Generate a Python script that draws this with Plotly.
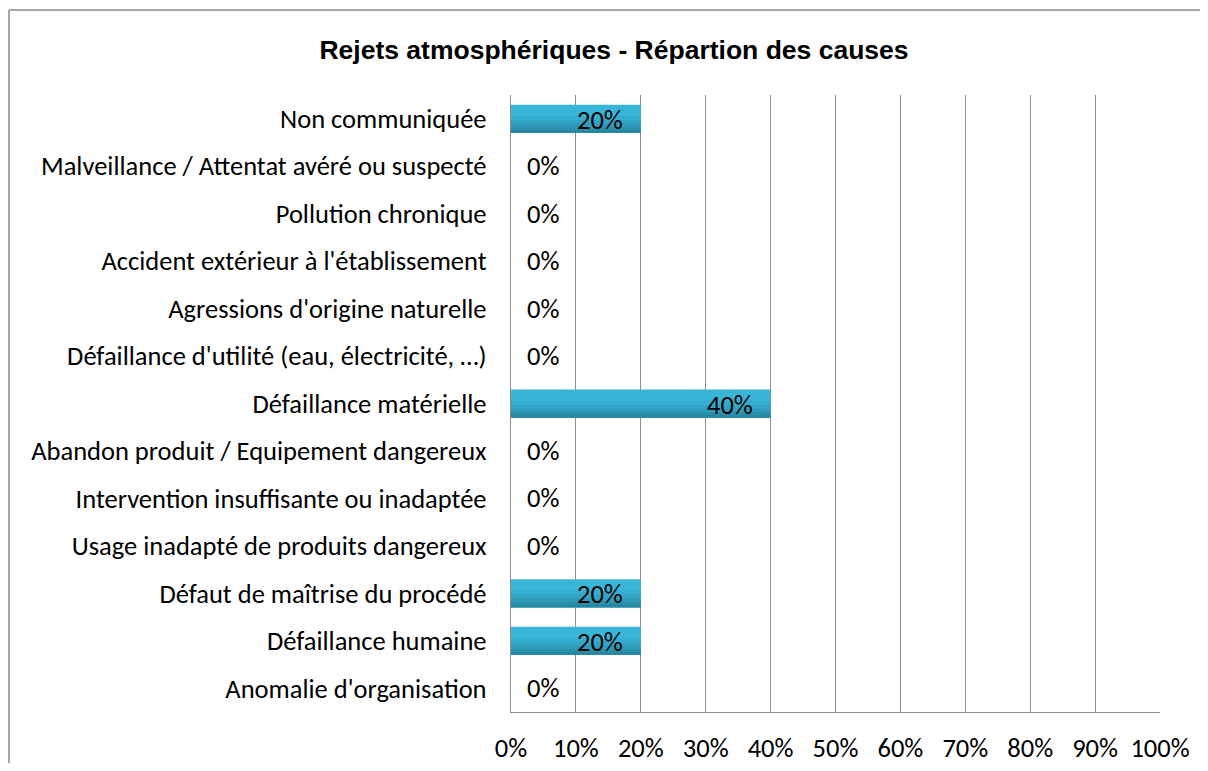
import plotly.graph_objects as go

categories = [
    "Anomalie d'organisation",
    "Défaillance humaine",
    "Défaut de maîtrise du procédé",
    "Usage inadapté de produits dangereux",
    "Intervention insuffisante ou inadaptée",
    "Abandon produit / Equipement dangereux",
    "Défaillance matérielle",
    "Défaillance d'utilité (eau, électricité, …)",
    "Agressions d'origine naturelle",
    "Accident extérieur à l'établissement",
    "Pollution chronique",
    "Malveillance / Attentat avéré ou suspecté",
    "Non communiquée",
]
values = [0, 20, 20, 0, 0, 0, 40, 0, 0, 0, 0, 0, 20]
x_ticks = [0, 10, 20, 30, 40, 50, 60, 70, 80, 90, 100]
x_tick_labels = [f"{v}%" for v in x_ticks]

FONT = "Carlito, Calibri, Lato, sans-serif"
FS = 26.5
fig = go.Figure()

# gradient imitation: stacked layers of bars, from light top to dark bottom
bar_w = 0.59
layers = [
    (1.00, "#39B5D7"),
    (0.60, "#35ADCE"),
    (0.45, "#32A5C4"),
    (0.32, "#2E9BB9"),
    (0.20, "#2A91AD"),
    (0.10, "#2787A1"),
]
for frac, col in layers:
    w = bar_w * frac
    fig.add_trace(go.Bar(
        y=list(range(len(categories))), x=values, orientation="h",
        width=w, offset=-bar_w / 2,
        marker=dict(color=col, line=dict(width=0)),
        hoverinfo="skip", showlegend=False,
    ))

for i, v in enumerate(values):
    if v > 0:
        fig.add_annotation(x=v, y=i, text=f"{v}%", showarrow=False, xanchor="right",
                           xshift=-16, yshift=-1, font=dict(family=FONT, size=FS, color="black"))
    else:
        fig.add_annotation(x=0, y=i, text=f"{v}%", showarrow=False, xanchor="left",
                           xshift=14, font=dict(family=FONT, size=FS, color="black"))

W, H = 1192, 755
L, R, T, B = 503, 1152, 87, 704
pw, ph = R - L, B - T
fx0, fx1 = (1 - L) / pw, (1300 - L) / pw
fy_top, fy_bot = (B - 2) / ph, (B - 900) / ph
frame = dict(color="#888888", width=1.5)
fig.add_shape(type="line", xref="paper", yref="paper", x0=fx0, x1=fx1, y0=fy_top, y1=fy_top,
              line=frame, layer="below")
fig.add_shape(type="line", xref="paper", yref="paper", x0=fx0, x1=fx0, y0=fy_bot, y1=fy_top,
              line=frame, layer="below")

fig.update_layout(
    width=W, height=H,
    margin=dict(l=L, r=W - R, t=T, b=H - B, autoexpand=False),
    paper_bgcolor="white", plot_bgcolor="white",
    barmode="overlay",
    title=dict(text="<b>Rejets atmosphériques - Répartion des causes</b>",
               x=606 / W, xanchor="center", y=1 - 42 / H, yanchor="middle",
               font=dict(family="Liberation Sans, Arial, sans-serif", size=26.5, color="black")),
    xaxis=dict(range=[0, 100], tickvals=x_ticks, ticktext=x_tick_labels, automargin=False,
               showgrid=True, gridcolor="#8c8c8c", gridwidth=1.3,
               showline=True, linecolor="#8c8c8c", linewidth=1.3,
               zeroline=False, ticks="outside", ticklen=0, ticklabelstandoff=12,
               tickfont=dict(family=FONT, size=FS, color="black")),
    yaxis=dict(range=[-0.5, len(categories) - 0.5], automargin=False,
               tickvals=list(range(len(categories))), ticktext=categories,
               showgrid=False, showline=True, linecolor="#8c8c8c", linewidth=1.3,
               zeroline=False, ticks="outside", ticklen=0, ticklabelstandoff=18,
               tickfont=dict(family=FONT, size=FS, color="black")),
)

fig.write_html("out.html")
